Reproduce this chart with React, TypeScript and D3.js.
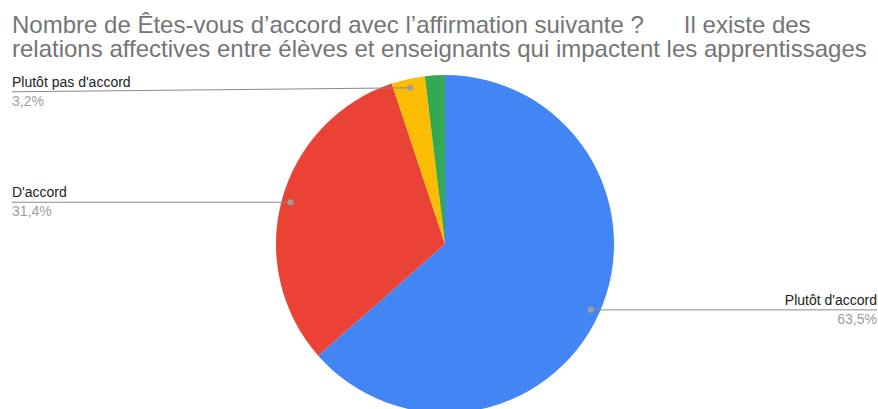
import React from "react";
import * as d3 from "d3";

const categories = ["Plutôt d'accord", "D'accord", "Plutôt pas d'accord", "Pas d'accord"];
const values = [63.5, 31.4, 3.2, 1.9];
const valueLabels = ["63,5%", "31,4%", "3,2%", ""];
const colors = ["#4285F4", "#EA4335", "#FBBC04", "#34A853"];
const showLabel = [true, true, true, false];
const titleLines = [
  "Nombre de Êtes-vous d’accord avec l’affirmation suivante ?      Il existe des",
  "relations affectives entre élèves et enseignants qui impactent les apprentissages",
];

const W = 878;
const H = 409;
const cx = 445;
const cy = 244;
const R = 169;

export default function App() {
  const pie = d3.pie<number>().sort(null).value((d) => d)(values);
  const arc = d3.arc<d3.PieArcDatum<number>>().innerRadius(0).outerRadius(R);
  const dotR = R * 0.947;

  return (
    <svg
      width={W}
      height={H}
      style={{ position: "absolute", left: 0, top: 0, background: "#fff" }}
      fontFamily="'Liberation Sans', Arial, sans-serif"
    >
      <text x={12} y={33} fontSize={24} fill="#757575" style={{ whiteSpace: "pre" }}>
        {titleLines.map((t, i) => (
          <tspan key={i} x={12} dy={i === 0 ? 0 : 24}>
            {t}
          </tspan>
        ))}
      </text>
      <g transform={`translate(${cx},${cy})`}>
        {pie.map((p, i) => (
          <path key={i} d={arc(p) || ""} fill={colors[i]} />
        ))}
      </g>
      {pie.map((p, i) => {
        if (!showLabel[i]) return null;
        const mid = (p.startAngle + p.endAngle) / 2;
        const dx = cx + Math.sin(mid) * dotR;
        const dy = cy - Math.cos(mid) * dotR;
        const right = dx > cx;
        const lineY = dy < 120 ? dy + 4 : dy;
        const x0 = right ? W - 1 : 12;
        return (
          <g key={i}>
            <polyline
              points={`${x0},${lineY} ${dx},${dy}`}
              fill="none"
              stroke="#8a8a8a"
              strokeWidth={1}
            />
            <circle cx={dx} cy={dy} r={3} fill="#9e9e9e" />
            <text
              x={right ? W - 1 : 12}
              y={lineY - 5}
              fontSize={14}
              fill="#222"
              textAnchor={right ? "end" : "start"}
            >
              {categories[i]}
            </text>
            <text
              x={right ? W - 1 : 12}
              y={lineY + 14}
              fontSize={14}
              fill="#9e9e9e"
              textAnchor={right ? "end" : "start"}
            >
              {valueLabels[i]}
            </text>
          </g>
        );
      })}
    </svg>
  );
}
